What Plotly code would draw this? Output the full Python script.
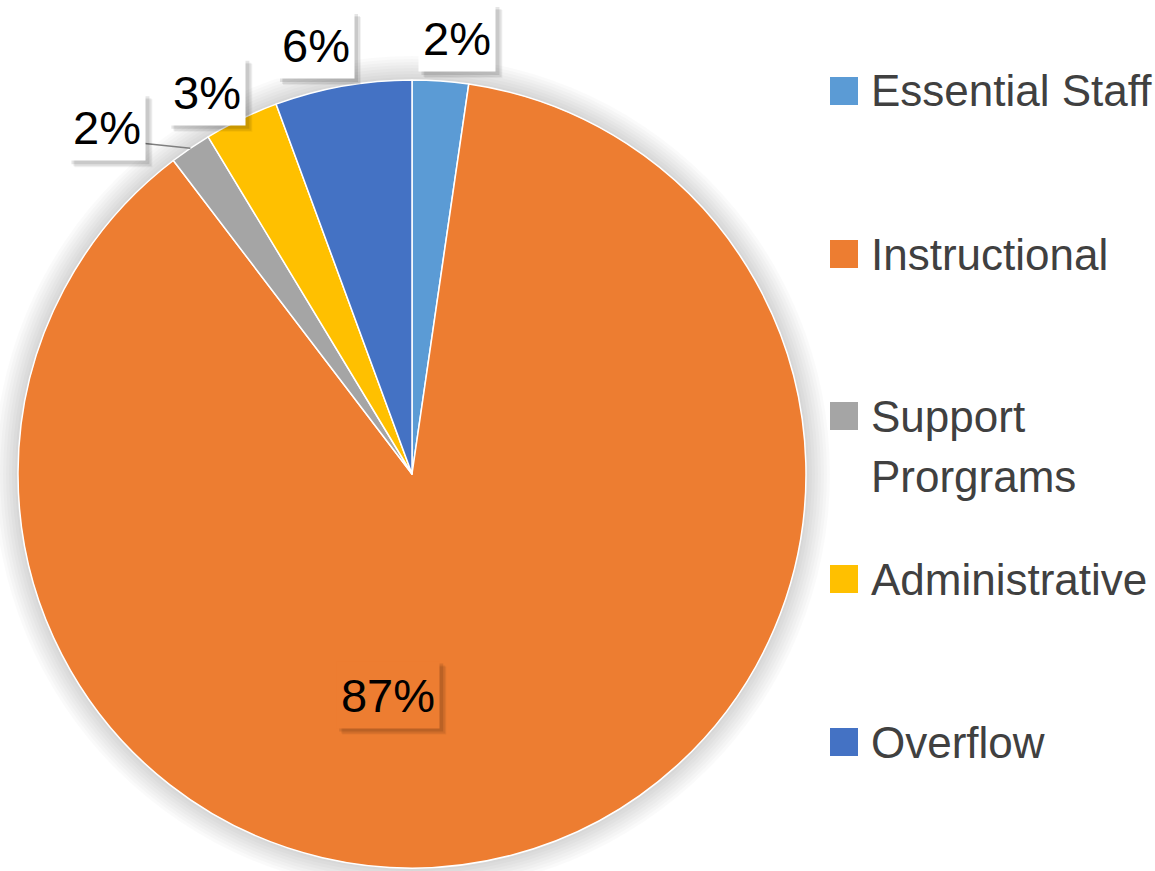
import math
import plotly.graph_objects as go

# ---- data ----
labels = ["Essential Staff", "Instructional", "Support Prorgrams", "Administrative", "Overflow"]
values = [2.3, 87.3, 1.7, 3.05, 5.6]
colors = ["#5B9BD5", "#ED7D31", "#A5A5A5", "#FFC000", "#4472C4"]
legend_text = ["Essential Staff", "Instructional", "Support<br>Prorgrams", "Administrative", "Overflow"]

# ---- layout / style ----
W, H = 1155, 871
CX, CY, R = 412, 474, 394
FONT = "Liberation Sans, Arial, sans-serif"
LABEL_SIZE = 47
LEGEND_SIZE = 44
BOX_H = 60
PAD = 4  # borderpad + borderwidth

label_r = [1.0, 0.56, 1.0, 1.0, 1.0]
label_shift = [(17, -43), (-79, 7), (-83, -21), (-34, -27), (-27, -41)]
label_leader = [False, False, True, False, False]
label_bg = ["white", "#ED7D31", "white", "white", "white"]
label_w = [70, 96, 70, 70, 70]
legend_y = [91, 254, 416, 579, 742]


def px(x):
    return x / W


def py(y):
    return 1 - y / H


fig = go.Figure(
    go.Pie(
        labels=labels,
        values=values,
        marker=dict(colors=colors, line=dict(color="white", width=1.5)),
        sort=False,
        direction="clockwise",
        rotation=0,
        textinfo="none",
        hoverinfo="label+percent",
        showlegend=False,
        domain=dict(x=[px(CX - R), px(CX + R)], y=[py(CY + R), py(CY - R)]),
    )
)

shapes = []
# soft shadow around the pie
for d in range(3, 25, 3):
    shapes.append(dict(type="circle", xref="paper", yref="paper", layer="below",
                       x0=px(CX - R - d), x1=px(CX + R + d),
                       y0=py(CY + R + d), y1=py(CY - R - d),
                       fillcolor="rgba(0,0,0,0.02)", line=dict(width=0)))

annotations = []
total = sum(values)
cum = 0.0
for i, v in enumerate(values):
    mid = (cum + v / 2) / total * 360
    cum += v
    a = math.radians(mid)
    r = R * label_r[i]
    ex = CX + r * math.sin(a)
    ey = CY - r * math.cos(a)
    txt = f"{round(v / total * 100)}%"
    sx, sy = label_shift[i]
    bx, by = ex + sx, ey + sy
    hw = label_w[i] / 2 + PAD
    hh = BOX_H / 2 + PAD
    if label_leader[i]:
        shapes.append(dict(type="line", xref="paper", yref="paper",
                           x0=px(bx + 35), y0=py(by + 16), x1=px(ex), y1=py(ey),
                           line=dict(color="#7F7F7F", width=1.5)))
    # soft box shadow
    for off, alpha in ((6, 0.05), (5, 0.07), (3, 0.10)):
        shapes.append(dict(type="rect", xref="paper", yref="paper",
                           x0=px(bx - hw + off), x1=px(bx + hw + off),
                           y0=py(by + hh + off), y1=py(by - hh + off),
                           fillcolor=f"rgba(0,0,0,{alpha})", line=dict(width=0)))
    annotations.append(dict(
        x=px(ex), y=py(ey), xref="paper", yref="paper", showarrow=False,
        xanchor="center", yanchor="middle",
        xshift=sx, yshift=-sy, text=txt,
        font=dict(family=FONT, size=LABEL_SIZE, color="#000000"),
        bgcolor=label_bg[i], width=label_w[i], height=BOX_H, borderpad=3,
    ))

# legend
for i, (t, c) in enumerate(zip(legend_text, colors)):
    yc = legend_y[i]
    shapes.append(dict(type="rect", xref="paper", yref="paper",
                       x0=px(830), x1=px(858), y0=py(yc + 14), y1=py(yc - 14),
                       fillcolor=c, line=dict(width=0)))
    for j, line in enumerate(t.split("<br>")):
        annotations.append(dict(
            x=px(869), y=py(yc + 60 * j), xref="paper", yref="paper", showarrow=False,
            xanchor="left", yanchor="middle", text=line,
            font=dict(family=FONT, size=LEGEND_SIZE, color="#404040"),
        ))

fig.update_layout(
    width=W, height=H,
    margin=dict(l=0, r=0, t=0, b=0),
    paper_bgcolor="white",
    plot_bgcolor="white",
    shapes=shapes,
    annotations=annotations,
    showlegend=False,
)

fig.write_html("out.html", config={"displayModeBar": False},
               post_script="document.body.style.margin='0';document.body.style.overflow='hidden';")
